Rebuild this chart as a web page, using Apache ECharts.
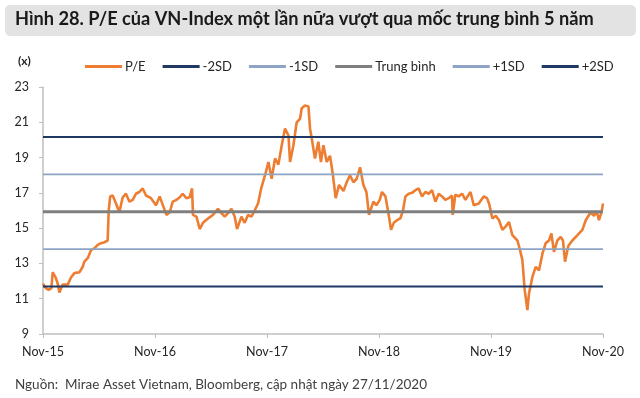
<!DOCTYPE html>
<html>
<head>
<meta charset="utf-8">
<title>P/E VN-Index</title>
<script src="https://cdn.jsdelivr.net/npm/echarts@6/dist/echarts.min.js"></script>
<style>
  html, body { margin: 0; padding: 0; background: #fff; }
  #main { width: 640px; height: 398px; }
</style>
</head>
<body>
<div id="main"></div>
<script>
// x = months since Nov-15
var tickLabels = ['Nov-15', 'Nov-16', 'Nov-17', 'Nov-18', 'Nov-19', 'Nov-20'];

var months = [
  0.0, 0.3, 0.6, 0.9, 1.04, 1.36, 1.58, 1.76, 2.1, 2.65, 3.0, 3.36, 3.9, 4.25, 4.43, 4.79,
  5.14, 5.5, 5.86, 6.21, 6.58, 6.93, 7.04, 7.2, 7.47, 7.82, 8.18, 8.54, 8.89, 9.26, 9.61,
  9.96, 10.33, 10.68, 11.04, 11.57, 12.11, 12.5, 13.22, 13.58, 13.9, 14.29, 14.65, 14.97,
  15.36, 15.72, 15.97, 16.07, 16.44, 16.79, 17.14, 17.68, 18.21, 18.75, 19.11, 19.47, 19.82,
  20.19, 20.54, 20.79, 21.26, 21.61, 21.96, 22.33, 22.68, 23.04, 23.4, 23.79, 24.15, 24.5,
  24.86, 25.22, 25.58, 25.93, 26.3, 26.47, 26.83, 27.18, 27.54, 27.72, 28.07, 28.44, 28.61,
  28.79, 29.14, 29.5, 29.78, 30.04, 30.4, 30.75, 31.04, 31.36, 31.72, 32.19, 32.54, 32.89,
  33.26, 33.61, 33.97, 34.33, 34.65, 34.93, 35.4, 35.72, 36.08, 36.32, 36.69, 37.04, 37.29,
  37.58, 37.93, 38.29, 38.57, 38.83, 39.18, 39.54, 39.9, 40.25, 40.61, 40.97, 41.32, 41.68,
  42.04, 42.4, 42.75, 43.11, 43.47, 43.82, 43.9, 44.18, 44.54, 44.9, 45.26, 45.8, 46.15,
  46.69, 47.22, 47.57, 47.79, 48.15, 48.51, 48.86, 49.22, 49.58, 49.93, 50.29, 50.83, 51.11,
  51.36, 51.61, 51.9, 52.07, 52.44, 52.79, 53.14, 53.51, 53.86, 54.22, 54.47, 54.75, 55.11,
  55.47, 55.71, 55.93, 56.29, 56.72, 57.26, 57.79, 58.15, 58.68, 59.04, 59.33, 59.57, 59.86, 60.0
];

var pe = [
  11.85, 11.6, 11.5, 11.6, 12.5, 12.2, 11.85, 11.35, 11.8, 11.8, 12.2, 12.45, 12.5, 12.8, 13.1, 13.3,
  13.75, 13.85, 14.05, 14.15, 14.2, 14.3, 16.0, 16.8, 16.85, 16.4, 15.9, 16.75, 16.95, 16.5, 16.6,
  16.95, 17.05, 17.25, 16.85, 16.7, 16.3, 16.8, 15.75, 15.9, 16.5, 16.6, 16.75, 16.95,
  16.7, 16.75, 17.25, 15.75, 15.65, 14.95, 15.3, 15.55, 15.75, 16.1, 15.85, 15.65, 15.85,
  16.1, 15.65, 14.95, 15.65, 15.3, 15.75, 15.65, 16.0, 16.4, 17.3, 18.0, 18.75, 17.8,
  18.95, 18.6, 19.7, 20.65, 20.25, 18.75, 19.7, 21.0, 21.2, 21.8, 21.95, 21.9, 20.65,
  20.1, 18.95, 19.9, 18.75, 19.7, 18.75, 19.1, 18.1, 16.7, 17.45, 17.1, 17.6, 18.0,
  17.6, 17.8, 18.45, 17.45, 17.05, 15.75, 16.5, 16.3, 16.6, 17.05, 16.8, 15.75, 14.9,
  15.3, 15.45, 15.55, 16.0, 16.8, 16.95, 17.0, 17.15, 17.25, 16.8, 17.05, 16.95, 17.15,
  16.5, 16.95, 16.8, 16.6, 16.7, 16.85, 15.75, 16.9, 16.8, 16.95, 16.6, 17.05, 16.3,
  16.4, 16.8, 16.7, 16.4, 15.55, 15.7, 15.45, 14.9, 15.1, 15.35, 14.6, 14.3, 13.75,
  13.2, 11.5, 10.35, 11.3, 12.25, 12.8, 12.6, 13.55, 14.15, 14.3, 14.7, 13.65, 14.3,
  14.5, 14.3, 13.1, 14.0, 14.3, 14.6, 14.9, 15.45, 15.9, 15.7, 15.95, 15.45, 15.95, 16.4
];

var bandNames = ['-2SD', '-1SD', 'Trung bình', '+1SD', '+2SD'];
var bandValues = [11.69, 13.81, 15.93, 18.05, 20.17];

var bandColors = ['#1F3864', '#8EA4C4', '#7F7F7F', '#8EA4C4', '#1F3864'];
var bandWidths = [2, 1.6, 3, 1.6, 2];

var chart = echarts.init(document.getElementById('main'));

var series = [{
  name: 'P/E',
  type: 'line',
  data: months.map(function (m, i) { return [m, pe[i]]; }),
  showSymbol: false,
  symbol: 'none',
  lineStyle: { color: '#ED7D31', width: 2.6 },
  itemStyle: { color: '#ED7D31' }
}];

bandNames.forEach(function (name, i) {
  series.push({
    name: name,
    type: 'line',
    data: [[0, bandValues[i]], [60, bandValues[i]]],
    symbol: 'none',
    lineStyle: { color: bandColors[i], width: bandWidths[i] },
    itemStyle: { color: bandColors[i] }
  });
});

var font = 'Lato, "Open Sans", sans-serif';

chart.setOption({
  animation: false,
  textStyle: { fontFamily: font },
  graphic: [
    {
      type: 'rect',
      shape: { x: 5, y: 5, width: 631, height: 31, r: 5 },
      style: { fill: '#E3E3E3' },
      silent: true
    },
    {
      type: 'text',
      left: 15,
      top: 10,
      style: {
        text: 'Hình 28. P/E của VN-Index một lần nữa vượt qua mốc trung bình 5 năm',
        font: 'bold 18.2px ' + font,
        fill: '#1a1a1a'
      }
    },
    {
      type: 'text',
      left: 18,
      top: 55,
      style: { text: '(x)', font: 'bold 12px ' + font, fill: '#262626' }
    },
    {
      type: 'text',
      left: 15,
      top: 378,
      style: {
        text: 'Nguồn:  Mirae Asset Vietnam, Bloomberg, cập nhật ngày 27/11/2020',
        font: '13.5px ' + font,
        fill: '#404040'
      }
    }
  ],
  legend: {
    left: 80,
    top: 55,
    icon: 'rect',
    itemWidth: 37,
    itemHeight: 3,
    itemGap: 17,
    textStyle: { fontSize: 13, color: '#262626', fontFamily: font, padding: [0, 0, 0, -2] },
    data: ['P/E'].concat(bandNames)
  },
  grid: { left: 43, right: 37, top: 87, bottom: 64 },
  xAxis: {
    type: 'value',
    min: 0,
    max: 60,
    interval: 12,
    splitLine: { show: false },
    axisLine: { lineStyle: { color: '#BFBFBF', width: 1.5 } },
    axisTick: { show: true, length: 4, lineStyle: { color: '#BFBFBF' } },
    axisLabel: {
      margin: 11,
      fontSize: 12.5,
      color: '#262626',
      formatter: function (v) { return tickLabels[Math.round(v / 12)]; }
    }
  },
  yAxis: {
    type: 'value',
    min: 9,
    max: 23,
    interval: 2,
    splitLine: { show: false },
    axisLine: { show: true, lineStyle: { color: '#BFBFBF', width: 1.5 } },
    axisTick: { show: true, length: 4, lineStyle: { color: '#BFBFBF' } },
    axisLabel: { margin: 14, fontSize: 12.5, color: '#262626' }
  },
  series: series
});
</script>
</body>
</html>
